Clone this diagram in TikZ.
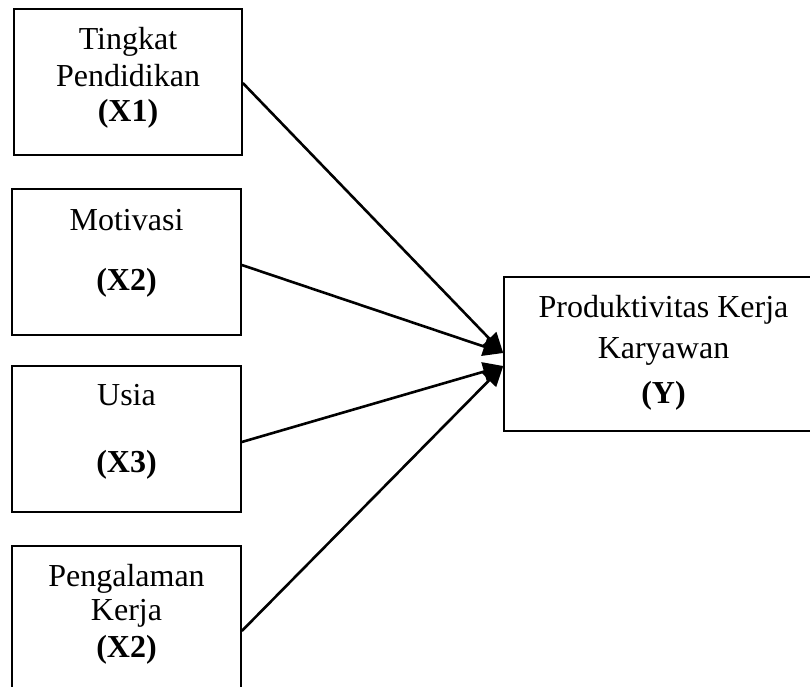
\documentclass[tikz,border=0pt]{standalone}
\usepackage{fontspec}
\setmainfont{Liberation Serif}
\usetikzlibrary{arrows.meta}
\begin{document}
\begin{tikzpicture}[x=1pt,y=-1pt,
  box/.style={draw, line width=1.6pt, inner sep=0pt, fill=white},
  lbl/.style={anchor=base, inner sep=0pt, font=\fontsize{32}{38}\selectfont},
  blbl/.style={anchor=base, inner sep=0pt, font=\fontsize{32}{38}\selectfont\bfseries},
  arr/.style={line width=2.6pt, -{Triangle[length=20pt,width=19pt]}}]
\useasboundingbox (0,0) rectangle (810,687);
% boxes
\node[box, minimum width=228pt, minimum height=146pt] (x1) at (128,82) {};
\node[box, minimum width=229pt, minimum height=146pt] (x2) at (126.5,262) {};
\node[box, minimum width=229pt, minimum height=146pt] (x3) at (126.5,439) {};
\node[box, minimum width=229pt, minimum height=146pt] (x4) at (126.5,619) {};
\node[box, minimum width=319pt, minimum height=154pt] (yy) at (663.5,354) {};
% texts
\node[lbl]  (x1a) at (128,50)  {Tingkat};
\node[lbl]  (x1b) at (128,87)  {Pendidikan};
\node[blbl] (x1c) at (128,122) {(X1)};
\node[lbl]  (x2a) at (126.5,230) {Motivasi};
\node[blbl] (x2c) at (126.5,290) {(X2)};
\node[lbl]  (x3a) at (126.5,405) {Usia};
\node[blbl] (x3c) at (126.5,472) {(X3)};
\node[lbl]  (x4a) at (126.5,586) {Pengalaman};
\node[lbl]  (x4b) at (126.5,620) {Kerja};
\node[blbl] (x4c) at (126.5,657) {(X2)};
\node[lbl]  (ya) at (663.5,317) {Produktivitas Kerja};
\node[lbl]  (yb) at (663.5,358) {Karyawan};
\node[blbl] (yc) at (663.5,403) {(Y)};
% arrows
\draw[arr] ([yshift=-1pt]x1.east) -- ([yshift=1pt]yy.west);
\draw[arr] ([yshift=-3pt]x2.east) -- ([yshift=1pt]yy.west);
\draw[arr] ([yshift=-3pt]x3.east) -- ([yshift=-12pt]yy.west);
\draw[arr] ([yshift=-12pt]x4.east) -- ([yshift=-12pt]yy.west);
\end{tikzpicture}
\end{document}
